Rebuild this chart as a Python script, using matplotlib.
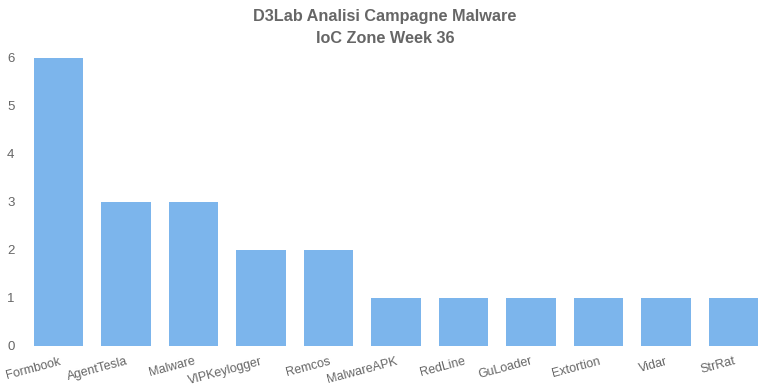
import numpy as np
import matplotlib.pyplot as plt

malware = ["Formbook", "AgentTesla", "Malware", "VIPKeylogger", "Remcos",
           "MalwareAPK", "RedLine", "GuLoader", "Extortion", "Vidar", "StrRat"]
counts = [6, 3, 3, 2, 2, 1, 1, 1, 1, 1, 1]
yticks = [0, 1, 2, 3, 4, 5, 6]

plt.rcParams['font.family'] = ['Liberation Sans', 'DejaVu Sans']
txt = '#666666'

fig = plt.figure(figsize=(7.7, 3.85), dpi=100)
ax = fig.add_axes([34/770, 1-345.7/385, (758-34)/770, (345.7-57.7)/385])

x = np.arange(len(malware))
ax.bar(x, counts, width=0.73, color='#7cb5ec')
ax.set_xlim(-0.365, len(malware) - 1 + 0.365)
ax.set_ylim(0, 6)
ax.set_yticks(yticks)
ax.set_xticks(x)
ax.set_xticklabels(malware, rotation=15, ha='right', rotation_mode='anchor')
for s in ax.spines.values():
    s.set_visible(False)
ax.tick_params(axis='y', length=0, pad=14, labelsize=9.5, labelcolor=txt)
ax.tick_params(axis='x', length=0, pad=7, labelsize=9, labelcolor=txt)

fig.text(0.5, 0.977, "D3Lab Analisi Campagne Malware\nIoC Zone Week 36",
         ha='center', va='top', fontsize=11.7, fontweight='bold', color=txt,
         linespacing=1.6)

fig.savefig("out.png", dpi=100)
